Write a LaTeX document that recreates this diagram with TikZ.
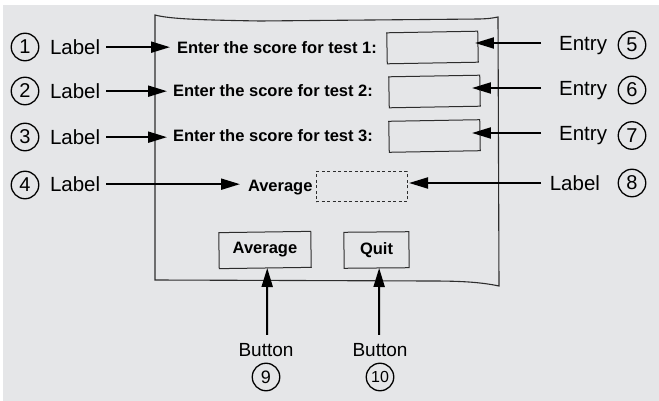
\documentclass[tikz,border=0pt]{standalone}
\usepackage{fontspec}
\setmainfont{Liberation Sans}
\usetikzlibrary{arrows.meta,calc}
\definecolor{bgcol}{RGB}{229,230,232}
\definecolor{ink}{RGB}{45,45,45}
\begin{document}
\begin{tikzpicture}[x=1pt,y=-1pt,
  arr/.style={line width=2pt,-{Triangle[length=19pt,width=11pt]}},
  num/.style={circle,draw,line width=1.3pt,minimum size=27.5pt,inner sep=0pt,outer sep=0pt,font=\fontsize{20}{20}\selectfont},
  lbl/.style={inner sep=0pt,outer sep=0pt,font=\fontsize{20.5}{21}\selectfont},
  hand/.style={inner sep=0pt,outer sep=0pt,font=\fontsize{16.5}{17}\selectfont\bfseries},
  box/.style={draw=ink,line width=1pt,inner sep=0pt,outer sep=0pt},
  frame/.style={draw=ink,line width=1.1pt}]
\useasboundingbox (0,0) rectangle (659,401);
\fill[white] (0,0) rectangle (659,401);
\fill[bgcol] (3,5) rectangle (659,401);

% window frame
\draw[frame] (155,15) .. controls (170,19) and (200,20) .. (260,21) -- (480,19)
  .. controls (490,18.5) .. (498,17) -- (499,286)
  .. controls (480,282) and (460,281) .. (430,281) -- (155,280) -- cycle;

% widgets
\node[box,rotate=1,minimum width=91pt,minimum height=31pt] (e1) at (432.5,47.5) {};
\node[box,rotate=1,minimum width=91pt,minimum height=31pt] (e2) at (434.5,91.5) {};
\node[box,rotate=1,minimum width=91pt,minimum height=31pt] (e3) at (434.5,136) {};
\node[box,dashed,dash pattern=on 3pt off 2.5pt,minimum width=91pt,minimum height=30pt] (avgout) at (361.5,187) {};
\node[box,rotate=0.8,minimum width=92pt,minimum height=36pt] (btnavg) at (265,250) {};
\node[box,rotate=0.5,minimum width=65pt,minimum height=36pt] (btnquit) at (376.5,250) {};
\node[hand] at (btnavg) {Average};
\node[hand] at (btnquit) {Quit};

\node[hand,anchor=base west] (t1) at (177,53.5) {Enter the score for test 1:};
\node[hand,anchor=base west] (t2) at (173,97) {Enter the score for test 2:};
\node[hand,anchor=base west] (t3) at (173,142) {Enter the score for test 3:};
\node[hand,anchor=base west] (t4) at (248,192) {Average};

% left callouts
\node[num] (c1) at (25,47) {1};
\node[num] (c2) at (25,91) {2};
\node[num] (c3) at (25,137) {3};
\node[num] (c4) at (25,185) {4};
\node[lbl,anchor=base west] (l1) at (50,54.5) {Label};
\node[lbl,anchor=base west] (l2) at (50,98.5) {Label};
\node[lbl,anchor=base west] (l3) at (50,144.5) {Label};
\node[lbl,anchor=base west] (l4) at (50,191.5) {Label};
\draw[arr] ($(l1.east)+(6,0)$) -- ($(l1.east -| t1.west)+(-7,0)$);
\draw[arr] ($(l2.east)+(6,0)$) -- ($(l2.east -| t2.west)+(-6,0)$);
\draw[arr] ($(l3.east)+(6,0)$) -- ($(l3.east -| t3.west)+(-6,0)$);
\draw[arr] ($(l4.east)+(6,0)$) -- ($(l4.east -| t4.west)+(-8,0)$);

% right callouts
\node[num] (c5) at (632,45) {5};
\node[num] (c6) at (632,90) {6};
\node[num] (c7) at (632,135.5) {7};
\node[num] (c8) at (632,183) {8};
\node[lbl,anchor=base east] (r5) at (607,50.5) {Entry};
\node[lbl,anchor=base east] (r6) at (607,95.5) {Entry};
\node[lbl,anchor=base east] (r7) at (607,140.5) {Entry};
\node[lbl,anchor=base east] (r8) at (600,190) {Label};
\coordinate (a5) at (541,43);
\coordinate (a6) at (541,88);
\coordinate (a7) at (541,133);
\coordinate (a8) at (541,183);
\draw[arr] (a5) -- ($(a5 -| e1.east)+(-3,0)$);
\draw[arr] (a6) -- ($(a6 -| e2.east)+(-8,0)$);
\draw[arr] (a7) -- ($(a7 -| e3.east)+(-8,0)$);
\draw[arr] (a8) -- ($(a8 -| avgout.east)+(2,0)$);

% bottom callouts
\node[lbl,anchor=base,font=\fontsize{19}{19}\selectfont] (b9) at (266,356) {Button};
\node[lbl,anchor=base,font=\fontsize{19}{19}\selectfont] (b10) at (380,356) {Button};
\node[num,font=\fontsize{18}{18}\selectfont] (c9) at (266,377) {9};
\node[num,font=\fontsize{16}{16}\selectfont] (c10) at (380,377) {10};
\draw[arr] ($(b9.north)+(1,-8)$) -- ($(btnavg.south)+(2,0)$);
\draw[arr] ($(b10.north)+(-1,-8)$) -- ($(btnquit.south)+(2.5,0)$);
\end{tikzpicture}
\end{document}
